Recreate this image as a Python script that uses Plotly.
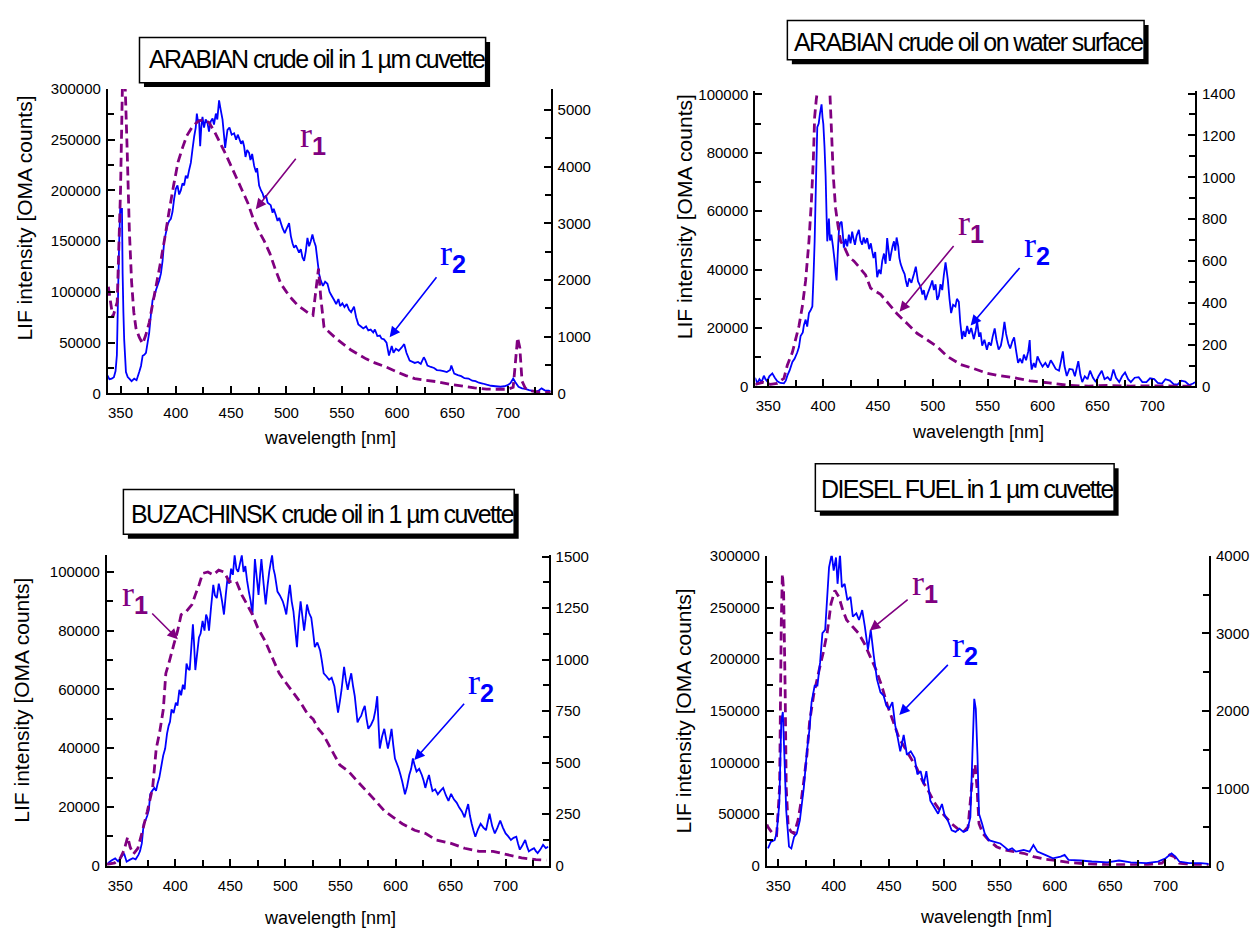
import plotly.graph_objects as go

W, H = 1250, 932
PURPLE = '#800080'
BLUE = '#0000FF'
SANS = 'Liberation Sans, Arial, sans-serif'
SERIF = 'Liberation Serif, Times New Roman, serif'

# ---------------- data: (wavelength nm, value) ----------------
# Panel 1: ARABIAN crude oil in 1 um cuvette
p1_r2 = [(338, 17800), (340, 14000), (342, 14500), (344, 16000), (345.5, 22000), (346.7, 37500), (348, 110000), (348.8, 150000), (349.7, 182600), (350.5, 178000), (351.3, 182600), (351.9, 117800), (352.6, 80000), (353.3, 53200), (354.9, 21000), (356.5, 16000), (357.9, 14500), (360, 12000), (362.4, 14500), (364.5, 13000), (366.9, 21000), (368.5, 27000), (370, 37100), (371.5, 38000), (373, 40000), (375.9, 59700), (377.5, 78000), (379, 92000), (380.5, 95000), (382, 101600), (385, 111300), (386.5, 118000), (388, 130600), (389.5, 150000), (391, 158000), (392.5, 166000), (394, 170000), (395.5, 172000), (397, 179000), (398.5, 192000), (400, 201700), (401.5, 205000), (403, 196000), (404.5, 200000), (406, 207000), (407.5, 205000), (409, 214500), (410.5, 212000), (412, 220000), (413.6, 227400), (415, 240000), (416.6, 253200), (418, 262000), (419, 275800), (420, 268000), (421, 270000), (422, 243600), (423, 262000), (424.1, 272600), (425.5, 262000), (427, 270000), (428.7, 266100), (430, 258000), (431.5, 268000), (433.2, 271000), (434.5, 265000), (436.2, 275800), (437.5, 270000), (439.1, 288800), (440.5, 280000), (442.2, 270000), (443.5, 255000), (444.6, 241900), (445.5, 250000), (446.7, 259700), (448.5, 262000), (450.5, 255000), (452.7, 256400), (454.5, 250000), (456, 255000), (457.2, 251600), (459, 246000), (460.5, 249000), (461.7, 243600), (463, 233000), (464.5, 240000), (466.2, 237100), (467.5, 230000), (469, 236000), (470.8, 224200), (472.5, 218000), (473.5, 222000), (475.3, 204900), (477, 200000), (478.5, 197000), (479.8, 192000), (481.5, 195000), (483, 188000), (485.8, 185500), (487.5, 178000), (488.5, 182000), (490.4, 175800), (492, 170000), (493.5, 173000), (496.4, 163000), (498.5, 158000), (500, 162000), (502.4, 167800), (504, 155000), (505.5, 148000), (506.9, 143600), (508.5, 146000), (511.4, 138800), (513, 142000), (514.5, 134000), (516, 130600), (517.5, 140000), (519, 153300), (520.5, 145000), (522, 150000), (523.5, 156500), (525, 150000), (526.5, 145000), (528.1, 130600), (529.5, 118000), (531, 111300), (533, 106000), (535, 110000), (537.1, 108100), (539, 100000), (541, 96000), (543.1, 92000), (545, 88000), (547, 93000), (548.5, 86000), (550.6, 88700), (552.5, 85000), (554.5, 88000), (556.6, 82300), (558.5, 80000), (561.1, 85500), (563, 75000), (565, 68000), (567.1, 66200), (569.5, 64000), (572, 66000), (574, 62000), (576.2, 62900), (578.5, 60000), (580, 63000), (582.2, 56500), (584.5, 57000), (586, 54000), (588.2, 53200), (590.5, 50000), (592.7, 37200), (595.2, 46800), (596.8, 40000), (599, 44000), (601.5, 42000), (604, 45000), (606.5, 48500), (608.5, 40000), (611.4, 32300), (614, 31000), (616, 30000), (619, 31000), (621.5, 29000), (624.2, 35600), (625.5, 33000), (627.5, 27500), (630.5, 26000), (633.5, 25000), (636, 23000), (638.8, 22600), (642, 22000), (645, 21000), (648, 23000), (649.1, 27500), (651.7, 19400), (655, 18000), (658, 17000), (661, 15000), (664.6, 14600), (668, 12500), (671, 12000), (674, 10500), (677.4, 9700), (681, 8500), (685, 7500), (689, 7000), (693.6, 6500), (697, 7000), (700, 8100), (702.5, 10000), (705, 14600), (707, 11000), (709.8, 6500), (713, 5000), (716, 4500), (719.4, 3200), (722.5, 2500), (725.9, 1600), (728.5, 3000), (730.7, 4900), (733.5, 3000), (737, 2600), (739, 2000)]
p1_r1 = [(339, 1880), (341, 1611), (343, 1343), (347, 1611), (350, 3580), (352, 5728), (354, 5549), (356, 4296), (358, 2864), (360, 1969), (362, 1432), (364, 1146), (367, 985), (370, 877), (373, 1038), (376, 1253), (379, 1575), (382, 1880), (386, 2291), (390, 2739), (394, 3222), (398, 3670), (402, 4081), (406, 4332), (410, 4547), (415, 4708), (420, 4797), (425, 4833), (430, 4779), (435, 4618), (440, 4421), (445, 4224), (450, 4010), (455, 3795), (460, 3580), (465, 3365), (470, 3079), (475, 2864), (480, 2685), (485, 2470), (490, 2184), (495, 1933), (500, 1790), (505, 1665), (510, 1557), (515, 1486), (520, 1414), (524, 1378), (527, 1880), (529, 2202), (531, 1700), (534, 1164), (539, 1074), (545, 967), (552, 859), (558, 770), (565, 689), (572, 609), (580, 537), (590, 465), (600, 376), (608, 313), (616, 260), (625, 233), (636, 206), (648, 161), (661, 122), (670, 98), (681, 75), (690, 72), (700, 72), (705, 107), (707, 537), (709, 985), (711, 806), (713, 215), (716, 90), (722, 45), (729, 18), (739, 18)]

# Panel 2: ARABIAN crude oil on water surface
p2_r2 = [(338, 3000), (340, 1100), (342, 2500), (344, 1500), (346, 3700), (347.5, 2500), (349, 1800), (351, 3500), (353.7, 4500), (356, 3000), (358.3, 1800), (361, 1200), (364.3, 1100), (366, 2000), (367.4, 3700), (369.5, 5500), (372, 8400), (374, 9500), (376.5, 11700), (378, 13500), (379.5, 17300), (381.5, 18500), (382.5, 21000), (384.1, 22900), (385.5, 20500), (387.1, 25100), (388.5, 26000), (390.2, 27400), (391.3, 38000), (392.3, 49700), (393.5, 70000), (394.7, 88800), (396, 90000), (397.1, 93300), (398.6, 96600), (399.5, 92000), (400.2, 89900), (401.3, 82000), (402.3, 72100), (403.2, 58000), (403.8, 49700), (404.5, 53000), (405.3, 57500), (406.3, 50000), (407.5, 52000), (409, 48000), (410.5, 43000), (411.5, 39000), (412.3, 36300), (413.3, 45000), (414.4, 53100), (415.5, 56000), (416.9, 56400), (418, 52000), (418.9, 47500), (420.5, 50500), (422, 48000), (423.5, 52000), (425, 49000), (426.5, 53000), (427.6, 50800), (429, 48500), (430.5, 51500), (432.6, 53600), (434, 50000), (435.6, 48600), (437, 51000), (438.5, 49000), (440.2, 50800), (442, 47000), (443.5, 49000), (444.7, 46400), (446, 44000), (447.5, 46000), (449.3, 37400), (451, 40000), (452.5, 38500), (453.9, 43000), (455.5, 45500), (457, 42000), (458.4, 50800), (459.5, 47000), (460.8, 43000), (462, 45500), (463.3, 48000), (464.6, 49700), (465.8, 46500), (467, 51000), (468.5, 48000), (469.5, 44000), (470.7, 41900), (472.5, 40000), (474.3, 38500), (475.5, 36000), (476.8, 34100), (478.5, 37000), (480.5, 35500), (482.8, 38500), (484.5, 41000), (486.5, 36000), (488.9, 34100), (490.5, 31500), (491.8, 33000), (493.4, 29600), (495.5, 32000), (497.5, 34000), (499.5, 36300), (501, 33000), (502.5, 35000), (504, 29600), (505.5, 31000), (507, 35000), (508.6, 33000), (510, 38000), (511.6, 42500), (512.5, 40000), (513.7, 36500), (515.2, 30000), (516.7, 25100), (518.5, 28000), (520.6, 27400), (522, 30000), (523.7, 29000), (525, 22000), (526.7, 16200), (528, 19000), (529.5, 17000), (531.3, 20700), (533, 18000), (535, 20000), (537.4, 16200), (539, 19000), (540.4, 22200), (542.2, 17000), (543.5, 18500), (545, 14000), (547, 16000), (549.3, 12600), (551, 15100), (553, 14000), (554.5, 17000), (556.4, 19900), (558, 16000), (560, 12600), (562, 14000), (563.5, 17000), (565.3, 22100), (566.8, 18000), (568.8, 14700), (570.5, 13000), (572.5, 15500), (574.1, 16800), (576, 12000), (577.7, 8100), (579.5, 9500), (581.5, 8000), (583, 10900), (585, 9000), (587, 12000), (588.3, 15900), (589.2, 9000), (590.1, 5800), (592, 8000), (593.5, 6500), (595.4, 10300), (597.5, 8500), (600, 6800), (602.6, 8100), (605, 6500), (607.5, 9000), (609.7, 7600), (612, 6000), (615, 5400), (617, 9000), (618.5, 12000), (620, 7000), (622.1, 3600), (624.5, 6000), (627.5, 5800), (629.5, 3500), (631, 6000), (632.6, 8700), (634.5, 4000), (636.2, 1500), (638.5, 3500), (641, 2500), (643.3, 5400), (646, 3000), (648.6, 1500), (651, 3500), (654, 5400), (656.5, 2500), (659.3, 3200), (662, 2000), (664.6, 5800), (667, 3000), (669.9, 1500), (672.5, 3500), (675.2, 4800), (678, 2500), (680.5, 1500), (684, 3000), (687.6, 3200), (691, 1500), (694.7, 1500), (698, 2800), (701.8, 2500), (705, 1200), (708.9, 1000), (712, 2500), (716, 2000), (719.5, 800), (723, 600), (726.5, 2000), (730.1, 1700), (733.5, 500), (737.2, 1000), (739, 1500)]
p2_r1 = [(338, 10), (345, 20), (352, 10), (358, 15), (364.3, 39), (367.4, 102), (372, 163), (375, 226), (378, 289), (381.1, 383), (384.1, 507), (387.1, 694), (389.3, 881), (391.1, 1083), (392.3, 1287), (393.8, 1372), (395.5, 1438), (398, 1550), (400, 1600), (402, 1580), (404, 1500), (406.2, 1403), (407.5, 1240), (409.3, 1006), (411.4, 850), (413.5, 772), (416, 694), (419.6, 663), (423.5, 618), (428, 600), (432.6, 572), (438.7, 533), (443.3, 470), (452.4, 440), (460, 394), (467.6, 346), (476.8, 300), (485.9, 253), (495, 222), (504.1, 190), (513.2, 144), (525.3, 105), (537.5, 85), (549.7, 63), (560, 52), (574.1, 42), (588.3, 27), (606, 17), (624, 5), (642, 2), (660, 5), (680, 2), (700, 3), (720, 2), (739, 2)]

# Panel 3: BUZACHINSK crude oil in 1 um cuvette
p3_r2 = [(338.8, 900), (342, 1800), (345.4, 2500), (348, 1500), (350.2, 2600), (352, 3500), (353.5, 4200), (355.8, 1400), (358.5, 2000), (361.5, 2600), (364, 2200), (366.5, 3700), (368, 5000), (369.6, 7600), (371.3, 14300), (373, 15500), (374.5, 17000), (376, 19000), (377.2, 24300), (379, 25500), (381, 26500), (382.5, 25500), (383.9, 27900), (385.5, 30000), (387.5, 34300), (389, 37500), (390.8, 39900), (392.5, 45000), (394, 47700), (395.2, 49000), (396.6, 53200), (398.5, 52000), (400.5, 55500), (402, 54500), (403.7, 59900), (405.3, 58000), (406.9, 61600), (408.5, 60000), (410.2, 68800), (411.7, 67000), (413.1, 66600), (414.5, 74000), (416, 82200), (417, 76000), (418.2, 66600), (419.8, 72000), (421.5, 77700), (423, 79000), (424.8, 83300), (426.5, 80000), (428, 85500), (429.3, 84000), (430.6, 80000), (432.5, 88000), (434.5, 95600), (436, 92000), (437.7, 91100), (439.5, 96000), (441, 93300), (442.5, 90000), (444.2, 85500), (445.8, 92000), (447.4, 97800), (449, 96000), (450.7, 101100), (452.3, 99000), (453.9, 105600), (455.5, 101000), (457.1, 100000), (458.8, 103000), (460.4, 105600), (462, 100000), (463.6, 102000), (465.2, 97000), (466.8, 93300), (468.5, 90000), (470.1, 85500), (471.2, 95000), (472.3, 104400), (474, 98000), (475.6, 92200), (477, 99000), (478.2, 104400), (480.2, 96000), (482.1, 88900), (483.7, 95000), (485.3, 100000), (486.6, 103000), (487.9, 105600), (489.2, 101000), (490.5, 98900), (492.8, 93300), (495, 92000), (497.6, 90000), (499.2, 88000), (500.8, 85500), (502.5, 91000), (504.1, 95600), (505.7, 90000), (507.3, 86600), (509, 80000), (510.5, 74400), (512.2, 84000), (513.8, 90000), (515.4, 85000), (517, 80000), (518.3, 84000), (519.6, 88900), (521.5, 86000), (523.5, 84400), (525, 80000), (526.7, 74400), (529, 76000), (531.5, 73300), (533, 70000), (534.8, 65500), (537.2, 64500), (539.7, 63300), (542, 64000), (544.5, 61100), (546, 57000), (547.8, 52100), (549.5, 56000), (551, 59900), (552.2, 64000), (553.3, 67700), (555, 63000), (556.6, 59900), (558.2, 63000), (559.8, 65500), (561.5, 61000), (563, 57700), (565.5, 48800), (567, 50000), (568.8, 51000), (570.5, 53000), (572.1, 54400), (573.7, 50000), (575.3, 46600), (577.8, 48000), (580.1, 49900), (581.8, 53000), (583.4, 57700), (584.6, 48000), (585.7, 39900), (587.8, 44000), (589.8, 46600), (591.5, 43000), (593.1, 39900), (594.8, 43000), (596.4, 46600), (598, 41000), (599.5, 36500), (602.8, 33200), (604.5, 31000), (606.1, 28700), (608.6, 24300), (610.5, 27000), (612.5, 30900), (614.2, 33000), (615.8, 36500), (617.5, 34000), (619.1, 32100), (621.5, 33000), (623.9, 30900), (625.5, 29000), (627.1, 26500), (628.8, 29000), (630.4, 30900), (632, 28000), (633.6, 25400), (636, 26000), (638.4, 24300), (640.8, 25500), (643.3, 26500), (645.7, 24000), (648.1, 22100), (650.5, 24500), (653, 22600), (655.5, 21500), (657.9, 19800), (660.3, 18500), (662.7, 16500), (664.4, 19000), (666, 21000), (667.6, 17000), (669.2, 14300), (670.8, 12000), (672.5, 9900), (675, 12500), (677.3, 14300), (679.8, 13000), (682.2, 12100), (683.8, 15000), (685.4, 17700), (687.8, 13500), (690.2, 11000), (692.6, 13000), (695.1, 15400), (697.5, 13000), (700, 11000), (702.4, 10000), (704.8, 8800), (707.2, 9500), (709.7, 9900), (711.3, 7500), (712.9, 5500), (715.3, 7000), (717.8, 8800), (719.5, 6500), (721.1, 4900), (723.5, 5500), (725.8, 6000), (727.5, 5000), (729.1, 4300), (731.5, 5500), (734, 7100), (736.5, 6000), (738.8, 6500)]
p3_r1 = [(338, 7), (345, 14), (350, 36), (353.5, 76), (356.8, 140), (359, 90), (362, 57), (366, 85), (369.6, 157), (374.5, 262), (379.4, 378), (382.7, 569), (385.8, 648), (389.1, 758), (391.4, 933), (394, 980), (398.8, 1076), (402.1, 1139), (405.3, 1218), (410, 1234), (415.1, 1267), (418.2, 1314), (421.5, 1361), (424.8, 1418), (429.6, 1425), (434.5, 1411), (439.4, 1434), (444.2, 1425), (449.1, 1378), (455.5, 1378), (460.4, 1314), (465.2, 1267), (470.1, 1218), (474.9, 1154), (481.4, 1092), (487.9, 1012), (494.4, 933), (500.8, 885), (507.3, 838), (513.8, 791), (520.3, 735), (525.2, 711), (530, 664), (534.8, 633), (539.7, 584), (544.5, 537), (549.4, 489), (557.5, 457), (565.5, 409), (573.7, 362), (581.8, 315), (589.9, 266), (598, 235), (606.1, 204), (617.4, 172), (627.1, 157), (636.8, 125), (649.8, 110), (662.7, 85), (675.7, 70), (688.6, 70), (701.5, 54), (714.5, 38), (727.5, 30), (737, 27)]

# Panel 4: DIESEL FUEL in 1 um cuvette
p4_r1 = [(339.6, 40000), (340.6, 37500), (344.8, 31200), (348.4, 29600), (351.1, 75700), (352.6, 234800), (353.6, 282500), (354.7, 266600), (356.1, 171100), (357.1, 75700), (358.9, 37500), (361.5, 33000), (364.2, 31200), (367.7, 43900), (370.2, 59800), (373, 82100), (375.8, 107500), (378.2, 139300), (381.8, 164800), (387, 190300), (390.5, 206100), (394.1, 225200), (397.6, 253800), (401.1, 266600), (404.7, 260200), (408.2, 247500), (411.7, 237900), (417, 231600), (422.3, 225200), (427.5, 215700), (432.8, 202900), (438.1, 190300), (443.4, 174300), (448.6, 155200), (453.9, 139300), (459.2, 123400), (464.5, 113900), (469.7, 104300), (475, 94800), (480.3, 82100), (485.6, 72500), (490.9, 61400), (496.2, 53400), (501.4, 47100), (506.7, 40700), (512, 35900), (517.3, 32800), (521.5, 37500), (524.4, 72500), (526.5, 94800), (527.9, 98000), (529.6, 75700), (531.4, 40700), (534.9, 31200), (540.2, 24800), (547.2, 18500), (554.2, 15300), (563.1, 13700), (571.8, 12100), (580.6, 8900), (591.2, 6400), (601.8, 5100), (612.3, 3200), (629.9, 1900), (647.5, 1000), (665.1, 1000), (682.7, 1000), (696.8, 2500), (703.8, 10500), (708, 8900), (712.5, 2500), (724.8, 1000), (739, 600)]
p4_r2 = [(340.6, 225), (343.1, 309), (346.6, 331), (348.4, 416), (350.8, 797), (352.6, 1857), (354, 1985), (355.4, 1433), (357.1, 712), (359.6, 247), (361.7, 225), (364.2, 373), (366.6, 416), (369.4, 585), (373, 1009), (375.8, 1476), (378.2, 1773), (380, 2112), (382.8, 2324), (385.3, 2324), (387.7, 2621), (389.8, 3003), (392.3, 3045), (395.8, 3851), (398.2, 4020), (400, 3809), (402.1, 3979), (403.5, 3639), (405.7, 4020), (407.4, 3596), (409.9, 3639), (412.4, 3427), (415.2, 3469), (417.3, 3215), (420.5, 3257), (422.9, 3172), (425.8, 3300), (428.2, 3088), (431, 2791), (433.5, 3045), (436.3, 2705), (439.1, 2409), (442.3, 2240), (445.1, 2197), (447.6, 2069), (450.2, 2027), (453.1, 2112), (455.6, 1815), (458, 1645), (460.2, 1476), (463.3, 1688), (466.2, 1433), (469.7, 1476), (473.2, 1391), (475.7, 1179), (478.6, 1221), (481.4, 1052), (483.8, 1221), (487.4, 840), (490.9, 755), (494.4, 671), (497.9, 797), (500.4, 649), (503.2, 585), (506.7, 459), (510.2, 437), (513.7, 479), (517.3, 437), (520.8, 459), (523.6, 628), (525.4, 1433), (527.1, 2155), (528.5, 2027), (530, 1433), (531.4, 671), (534.2, 543), (536.6, 416), (540.2, 331), (545.4, 309), (550.7, 288), (554.2, 247), (557.7, 204), (561.3, 225), (564.8, 183), (571.8, 204), (577.1, 183), (580.6, 267), (584.2, 183), (591.2, 140), (598.2, 97), (605.2, 119), (608.8, 140), (612.3, 76), (622.9, 68), (633.4, 55), (647.5, 43), (658, 68), (668.6, 43), (682.7, 33), (693.2, 55), (700.2, 97), (705.5, 161), (709, 119), (712.5, 55), (721.3, 33), (731.9, 33), (739, 25)]

titles = ['ARABIAN crude oil in 1 \u00b5m cuvette', 'ARABIAN crude oil on water surface',
          'BUZACHINSK crude oil in 1 \u00b5m cuvette', 'DIESEL FUEL in 1 \u00b5m cuvette']
x_title = 'wavelength [nm]'
y_title = 'LIF intensity [OMA counts]'

# ---------------- layout helpers ----------------
def px_x(x):
    return x / W

def px_y(y):
    return 1 - y / H

def tick_common():
    return dict(showline=True, linewidth=2, linecolor='black', ticks='inside', ticklen=7,
                tickwidth=1.5, tickcolor='black', showgrid=False, zeroline=False,
                tickfont=dict(family=SANS, size=15, color='black'))

def xcfg(x0, x1, rng, anchor):
    d = tick_common()
    d.update(domain=[px_x(x0), px_x(x1)], range=rng, anchor=anchor, tick0=350, dtick=50,
             minor=dict(ticks='inside', dtick=25, ticklen=6, tickwidth=1.5, tickcolor='black'),
             ticklabelstandoff=5)
    return d

def ycfg(y0, y1, rng, anchor, dtick, mdtick, side, overlay=None):
    d = tick_common()
    d.update(domain=[px_y(y1), px_y(y0)], range=rng, anchor=anchor, tick0=0, dtick=dtick,
             minor=dict(ticks='inside', dtick=mdtick, ticklen=6, tickwidth=1.5, tickcolor='black'),
             side=side, tickformat='d', ticklabelstandoff=2)
    if overlay:
        d['overlaying'] = overlay
    return d

def line_trace(data, xa, ya, color, width, dash=None):
    xs = [p[0] for p in data]
    ys = [p[1] for p in data]
    return go.Scatter(x=xs, y=ys, xaxis=xa, yaxis=ya, mode='lines', hoverinfo='skip',
                      line=dict(color=color, width=width, dash=dash, simplify=False))

fig = go.Figure()
DASH = '9px,5px'
fig.add_trace(line_trace(p1_r2, 'x', 'y', BLUE, 1.8))
fig.add_trace(line_trace(p1_r1, 'x', 'y2', PURPLE, 2.8, DASH))
fig.add_trace(line_trace(p2_r2, 'x2', 'y3', BLUE, 1.8))
fig.add_trace(line_trace(p2_r1, 'x2', 'y4', PURPLE, 2.8, DASH))
fig.add_trace(line_trace(p3_r2, 'x3', 'y5', BLUE, 1.8))
fig.add_trace(line_trace(p3_r1, 'x3', 'y6', PURPLE, 2.8, DASH))
fig.add_trace(line_trace(p4_r1, 'x4', 'y7', PURPLE, 2.8, DASH))
fig.add_trace(line_trace(p4_r2, 'x4', 'y8', BLUE, 1.8))

layout = dict(
    width=W, height=H, autosize=False, showlegend=False,
    margin=dict(l=0, r=0, t=0, b=0), paper_bgcolor='white', plot_bgcolor='rgba(0,0,0,0)',
    xaxis=xcfg(107, 550, [338.6, 738.8], 'y'),
    yaxis=ycfg(81.5, 391.5, [0, 300000], 'x', 50000, 25000, 'left'),
    yaxis2=ycfg(81.5, 391.5, [0, 5370], 'x', 1000, 500, 'right', 'y'),
    xaxis2=xcfg(755, 1195, [338.3, 739], 'y3'),
    yaxis3=ycfg(84, 384.5, [0, 101000], 'x2', 20000, 10000, 'left'),
    yaxis4=ycfg(84, 384.5, [0, 1410], 'x2', 200, 100, 'right', 'y3'),
    xaxis3=xcfg(106, 548, [337.9, 739], 'y5'),
    yaxis5=ycfg(556, 872.7, [0, 105800], 'x3', 20000, 10000, 'left'),
    yaxis6=ycfg(556, 872.7, [0, 1508], 'x3', 250, 125, 'right', 'y5'),
    xaxis4=xcfg(766.5, 1209, [339.6, 739.4], 'y7'),
    yaxis7=ycfg(557, 872.7, [0, 300000], 'x4', 50000, 25000, 'left'),
    yaxis8=ycfg(557, 872.7, [0, 4000], 'x4', 1000, 500, 'right', 'y7'),
)
fig.update_layout(**layout)

# title boxes with drop shadow
def rect(x0, y0, x1, y1, **kw):
    return dict(type='rect', xref='paper', yref='paper', x0=px_x(x0), x1=px_x(x1),
                y0=px_y(y1), y1=px_y(y0), **kw)

boxes = [((138.6, 29, 485, 75), (316, 51)),
         ((787, 11.7, 1144, 51.7), (968, 33.5)),
         ((122.5, 489.3, 513.6, 535), (321.4, 514)),
         ((815, 463.3, 1114, 511.7), (967, 488.5))]
shapes = []
annotations = []
for (bx, (tx, ty)), ttl in zip(boxes, titles):
    x0, y0, x1, y1 = bx
    shapes.append(rect(x0 + 4.5, y0 + 4.5, x1 + 4.5, y1 + 4.5, fillcolor='black', line=dict(width=0)))
    shapes.append(rect(x0, y0, x1, y1, fillcolor='white', line=dict(color='black', width=1.5)))
    annotations.append(dict(text='<span style="letter-spacing:-1.6px">' + ttl + '</span>',
                            xref='paper', yref='paper', x=px_x(tx), y=px_y(ty),
                            xanchor='center', yanchor='middle', showarrow=False,
                            font=dict(family=SANS, size=25, color='black')))

# axis titles
for (cx, cy) in [(24, 212.5), (684, 211.7), (21, 703.5), (684, 715)]:
    annotations.append(dict(text=y_title, xref='paper', yref='paper', x=px_x(cx), y=px_y(cy),
                            xanchor='center', yanchor='middle', textangle=-90, showarrow=False,
                            font=dict(family=SANS, size=21, color='black')))
for (cx, cy) in [(329.5, 437), (977.5, 431), (329.5, 926), (986, 925)]:
    annotations.append(dict(text=x_title, xref='paper', yref='paper', x=px_x(cx), y=px_y(cy),
                            xanchor='center', yanchor='middle', showarrow=False,
                            font=dict(family=SANS, size=18, color='black')))

# r1 / r2 labels with arrows: (xref, yref, arrow head, label position, subscript, colour)
pointers = [
    ('x', 'y', (472.3, 181553), (523.8, 252427), '1', PURPLE),
    ('x', 'y', (593.3, 55340), (651, 135922), '2', BLUE),
    ('x2', 'y3', (469.7, 25587), (534.5, 55213), '1', PURPLE),
    ('x2', 'y3', (534.5, 20873), (594.7, 47470), '2', BLUE),
    ('x3', 'y5', (402.3, 77100), (363.3, 91770), '1', PURPLE),
    ('x3', 'y5', (617.1, 35980), (677.9, 61700), '2', BLUE),
    ('x4', 'y7', (432.7, 227780), (482.8, 271480), '1', PURPLE),
    ('x4', 'y7', (459.3, 146057), (518.9, 211625), '2', BLUE),
]
for xr, yr, head, lab, sub, col in pointers:
    annotations.append(dict(x=head[0], y=head[1], xref=xr, yref=yr, ax=lab[0], ay=lab[1],
                            axref=xr, ayref=yr, showarrow=True, arrowhead=2,
                            arrowsize=1.3, arrowwidth=1.6, arrowcolor=col, standoff=0,
                            startstandoff=4,
                            text='r<sub><span style="font-family:Liberation Sans;font-weight:bold">' + sub + '</span></sub>',
                            font=dict(family=SERIF, size=36, color=col)))

fig.update_layout(shapes=shapes, annotations=annotations)
fig.write_html('out.html', config={'displayModeBar': False},
               post_script="document.body.style.margin='0px';document.body.style.padding='0px';")
